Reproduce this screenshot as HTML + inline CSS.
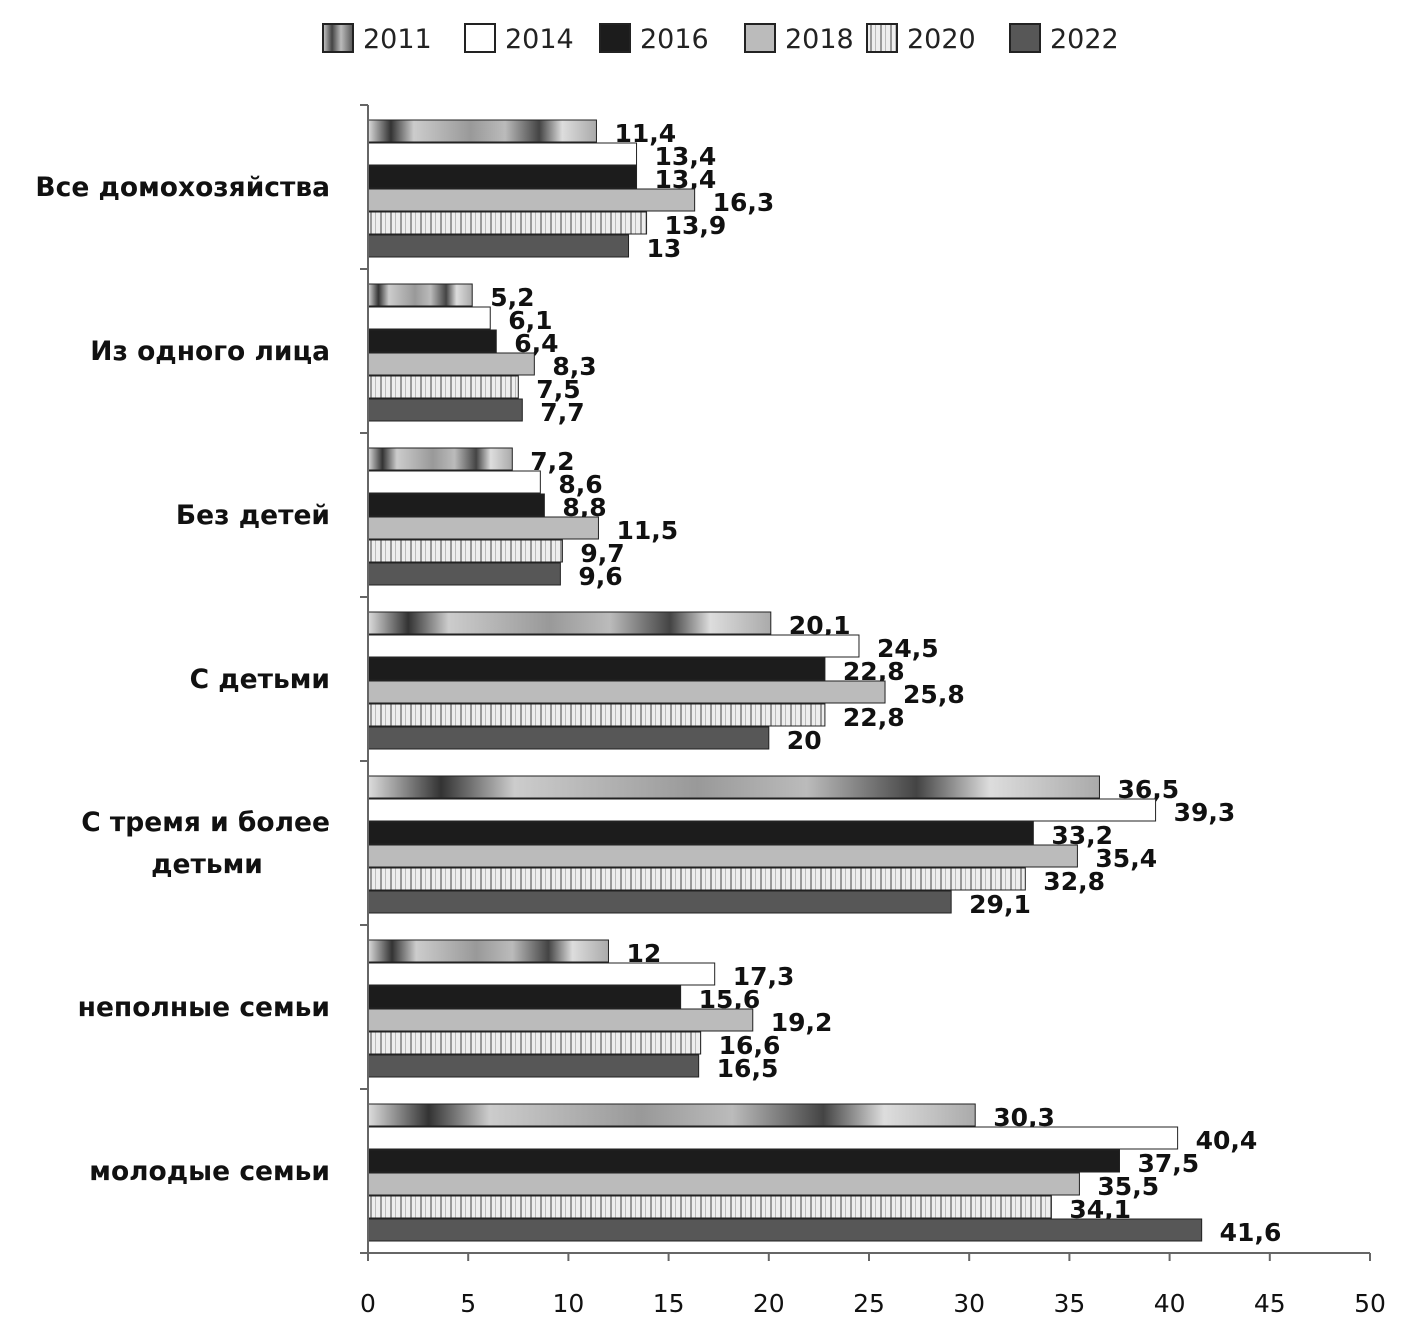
<!DOCTYPE html>
<html><head><meta charset="utf-8"><style>
body{margin:0;background:#fff;}
svg text{font-family:"DejaVu Sans","Liberation Sans",sans-serif;}
</style></head><body>
<svg id="chart" width="1416" height="1339" viewBox="0 0 1416 1339" xmlns="http://www.w3.org/2000/svg">
<defs>
<linearGradient id="g2011" x1="0" x2="1" y1="0" y2="0" spreadMethod="repeat">
<stop offset="0" stop-color="#ddd"/><stop offset="0.1" stop-color="#333"/><stop offset="0.2" stop-color="#ccc"/><stop offset="0.45" stop-color="#999"/><stop offset="0.6" stop-color="#bbb"/><stop offset="0.75" stop-color="#444"/><stop offset="0.85" stop-color="#ddd"/><stop offset="1" stop-color="#aaa"/>
</linearGradient>
<pattern id="p2020" width="10" height="10" patternUnits="userSpaceOnUse"><rect width="10" height="10" fill="#eee"/><rect x="0" width="2" height="10" fill="#999"/><rect x="5" width="1" height="10" fill="#bbb"/></pattern>
<linearGradient id="gl2011" x1="0" x2="1"><stop offset="0" stop-color="#ccc"/><stop offset="0.3" stop-color="#444"/><stop offset="0.6" stop-color="#bbb"/><stop offset="1" stop-color="#555"/></linearGradient>
</defs>
<g id="legend"></g>
<g id="plot"></g>
</svg>
<script>
const categories=["Все домохозяйства","Из одного лица","Без детей","С детьми","С тремя и более детьми","неполные семьи","молодые  семьи"];
const seriesNames=["2011","2014","2016","2018","2020","2022"];
const v2011=[11.4,5.2,7.2,20.1,36.5,12,30.3];
const v2014=[13.4,6.1,8.6,24.5,39.3,17.3,40.4];
const v2016=[13.4,6.4,8.8,22.8,33.2,15.6,37.5];
const v2018=[16.3,8.3,11.5,25.8,35.4,19.2,35.5];
const v2020=[13.9,7.5,9.7,22.8,32.8,16.6,34.1];
const v2022=[13,7.7,9.6,20,29.1,16.5,41.6];
const series=[v2011,v2014,v2016,v2018,v2020,v2022];
const xTicks=[0,5,10,15,20,25,30,35,40,45,50];
const fills=["url(#g2011)","#fff","#1c1c1c","#bbb","url(#p2020)","#575757"];
const legendFills=["url(#gl2011)","#fff","#1c1c1c","#bbb","url(#p2020)","#575757"];
const NS="http://www.w3.org/2000/svg";
const x0=368,x1=1370,yTop=105,yBot=1253;
const xs=v=>x0+(v/50)*(x1-x0);
const catH=(yBot-yTop)/categories.length;
const plot=document.getElementById('plot');
function mk(tag,attrs,parent){const e=document.createElementNS(NS,tag);for(const k in attrs)e.setAttribute(k,attrs[k]);(parent||plot).appendChild(e);return e;}
categories.forEach((c,ci)=>{
  const top=yTop+ci*catH+15;
  series.forEach((s,si)=>{
    const y=top+si*23;
    const r=mk('rect',{x:x0,y:y,width:xs(s[ci])-x0,height:22,fill:fills[si],stroke:'#222','stroke-width':1});
    
    
    const t=mk('text',{x:xs(s[ci])+18,y:y+22,'font-size':25,'font-weight':'bold',fill:'#111'});
    t.textContent=String(s[ci]).replace('.',',');
    
    
  });
  const cy=yTop+ci*catH+catH/2;
  const lines=c==="С тремя и более детьми"?["С тремя и более","детьми"]:[c];
  lines.forEach((ln,li)=>{
    const t=mk('text',{x:lines.length>1&&li==1?207:330,y:cy+9+(lines.length>1?(li*42-21):0),'font-size':26.5,'font-weight':'bold','text-anchor':lines.length>1&&li==1?'middle':'end',fill:'#111'});
    t.textContent=ln;
    
    
  });
});
const ya=mk('line',{x1:x0,y1:yTop,x2:x0,y2:yBot,stroke:'#666','stroke-width':2});

const xa=mk('line',{x1:x0,y1:yBot,x2:x1,y2:yBot,stroke:'#666','stroke-width':2});

for(let i=0;i<=categories.length;i++){const y=yTop+i*catH;mk('line',{x1:x0-8,y1:y,x2:x0,y2:y,stroke:'#666','stroke-width':2});}
xTicks.forEach(v=>{
  mk('line',{x1:xs(v),y1:yBot,x2:xs(v),y2:yBot+8,stroke:'#666','stroke-width':2});
  const t=mk('text',{x:xs(v),y:1312,'font-size':25,'text-anchor':'middle',fill:'#111'});
  t.textContent=v;
  
  
});
const lg=document.getElementById('legend');
const lx=[323,465,600,745,867,1010];
seriesNames.forEach((n,i)=>{
  const r=mk('rect',{x:lx[i],y:24,width:30,height:28,fill:legendFills[i],stroke:'#222','stroke-width':2},lg);
  
  
  const t=mk('text',{x:lx[i]+40,y:48,'font-size':27,fill:'#222'},lg);
  t.textContent=n;
  
  
});
</script>
</body></html>
